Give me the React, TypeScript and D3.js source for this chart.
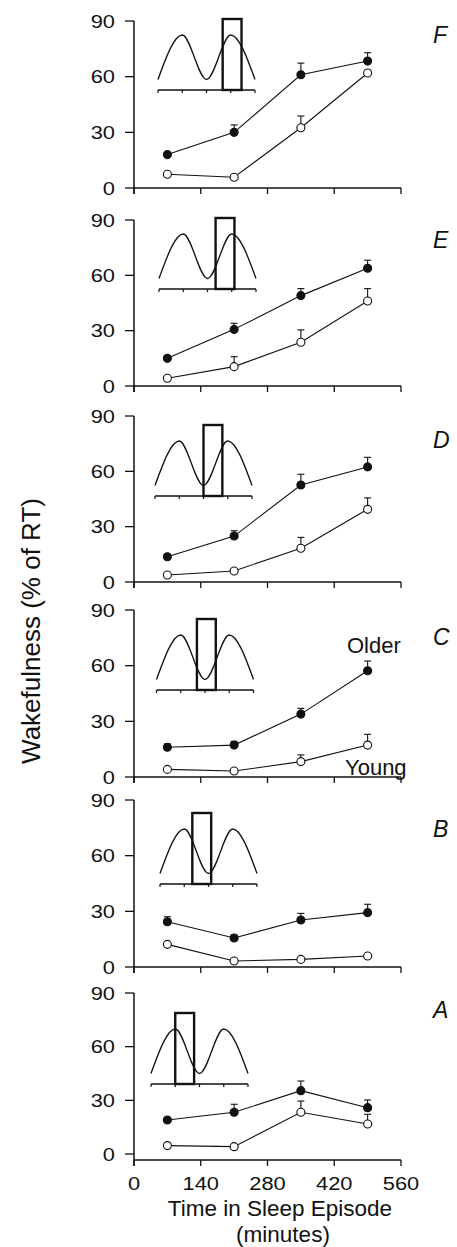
import React from 'react';
import * as d3 from 'd3';

// time bins (minutes into the sleep episode)
const minutes = [70, 210, 350, 490];
const xTicks = [0, 140, 280, 420, 560];
const yTicks = [0, 30, 60, 90];

// panel order top to bottom
const panelNames = ['F', 'E', 'D', 'C', 'B', 'A'];

// older subjects (filled) mean and SEM, % wake
const olderF = [18, 30, 61, 68.4];
const olderSemF = [1, 4, 6.3, 4.5];
const olderE = [15, 30.7, 49, 63.8];
const olderSemE = [1, 3.3, 3.8, 4.4];
const olderD = [13.7, 24.9, 52.6, 62.4];
const olderSemD = [1, 2.9, 5.8, 5.2];
const olderC = [16, 17.2, 33.9, 57.3];
const olderSemC = [1.8, 2, 3.1, 5.2];
const olderB = [24.4, 15.6, 25.3, 29.3];
const olderSemB = [2.7, 1.6, 3.6, 4.5];
const olderA = [19, 23.3, 35.4, 25.9];
const olderSemA = [1, 4.5, 5.4, 4.3];

// young subjects (open)
const youngF = [7.4, 5.8, 32.5, 62];
const youngSemF = [0.5, 0.5, 6.3, 1.5];
const youngE = [4.2, 10.5, 23.7, 46.1];
const youngSemE = [1, 5.4, 6.7, 6.7];
const youngD = [3.8, 6, 18.3, 39.4];
const youngSemD = [0.5, 1, 5.9, 6.2];
const youngC = [4.1, 3.2, 8.3, 17.2];
const youngSemC = [0.5, 0.5, 3.6, 5.8];
const youngB = [12.2, 3.2, 4.1, 5.9];
const youngSemB = [0.5, 0.3, 0.3, 0.5];
const youngA = [4.7, 4.1, 23.3, 16.8];
const youngSemA = [0.5, 0.5, 6.3, 5.4];

const olderMeans = [olderF, olderE, olderD, olderC, olderB, olderA];
const olderSems = [olderSemF, olderSemE, olderSemD, olderSemC, olderSemB, olderSemA];
const youngMeans = [youngF, youngE, youngD, youngC, youngB, youngA];
const youngSems = [youngSemF, youngSemE, youngSemD, youngSemC, youngSemB, youngSemA];

// inset: circadian rhythm over two cycles, sleep window start (h)
const rhythmHours = [0, 12, 24, 36, 48];
const rhythmLevel = [0, 1, 0, 1, 0];
const windowStarts = [32, 28, 24, 20, 16, 12];
const sleepHours = 9.33;

// where each panel sits on the page
const layout = [
  { top: 21, bottom: 188, xGap: 0, insetX: 158, insetDy: 69, letterDy: 22 },
  { top: 220, bottom: 386, xGap: 0, insetX: 159, insetDy: 69, letterDy: 28 },
  { top: 416, bottom: 582, xGap: 0, insetX: 155, insetDy: 80, letterDy: 32 },
  { top: 610, bottom: 777, xGap: 0, insetX: 156.5, insetDy: 80, letterDy: 35 },
  { top: 800, bottom: 967, xGap: 0, insetX: 160, insetDy: 84, letterDy: 37 },
  { top: 993, bottom: 1154, xGap: 6, insetX: 151, insetDy: 91, letterDy: 25 },
];

const font = 'Liberation Sans, Arial, Helvetica, sans-serif';
const x = d3.scaleLinear().domain([0, 560]).range([134, 401]);

function Wide({ x, y, size, anchor, children }: any) {
  return (
    <text transform={`translate(${x},${y}) scale(1.15,1)`} fontSize={size}
      textAnchor={anchor} fontFamily={font} fill="#111">{children}</text>
  );
}

function Inset({ x0, axisY, start }: any) {
  const hx = d3.scaleLinear().domain([0, 48]).range([x0, x0 + 97]);
  const ly = d3.scaleLinear().domain([0, 1]).range([axisY - 10.5, axisY - 55]);
  const line = d3.line<number>()
    .x((d, i) => hx(rhythmHours[i]))
    .y(d => ly(d))
    .curve(d3.curveMonotoneX);
  return (
    <g fill="none" stroke="#111">
      <path d={line(rhythmLevel) || ''} strokeWidth={1.3} />
      <line x1={hx(0)} x2={hx(48)} y1={axisY} y2={axisY} strokeWidth={1.4} />
      {rhythmHours.map(h => (
        <line key={h} x1={hx(h)} x2={hx(h)} y1={axisY} y2={axisY + 3} strokeWidth={1.2} />
      ))}
      <rect x={hx(start)} y={axisY - 71} width={hx(start + sleepHours) - hx(start)}
        height={71} strokeWidth={2.4} />
    </g>
  );
}

function Series({ y, means, sems, filled }: any) {
  const line = d3.line<number>().x((d, i) => x(minutes[i])).y(d => y(d));
  return (
    <g>
      {means.map((m: number, i: number) => {
        const top = y(m + sems[i]);
        return (
          <g key={i} stroke="#111" strokeWidth={1.1}>
            <line x1={x(minutes[i])} x2={x(minutes[i])} y1={y(m)} y2={top} />
            <line x1={x(minutes[i]) - 3.5} x2={x(minutes[i]) + 3.5} y1={top} y2={top} />
          </g>
        );
      })}
      <path d={line(means) || ''} fill="none" stroke="#111" strokeWidth={1.1} />
      {means.map((m: number, i: number) => (
        <circle key={i} cx={x(minutes[i])} cy={y(m)} r={4}
          fill={filled ? '#111' : '#fff'} stroke="#111" strokeWidth={1.1} />
      ))}
    </g>
  );
}

function Panel({ idx }: any) {
  const L = layout[idx];
  const y = d3.scaleLinear().domain([0, 90]).range([L.bottom, L.top]);
  const axisY = L.bottom + L.xGap;
  const ax = x(0);
  return (
    <g>
      <line x1={ax} x2={ax} y1={L.top} y2={axisY + 6} stroke="#111" strokeWidth={1.5} />
      {yTicks.map(t => (
        <g key={t}>
          <line x1={ax - 9} x2={ax} y1={y(t)} y2={y(t)} stroke="#111" strokeWidth={1.3} />
          <Wide x={ax - 19} y={y(t) + 6.5} size={19} anchor="end">{t}</Wide>
        </g>
      ))}
      <line x1={ax} x2={x(560)} y1={axisY} y2={axisY} stroke="#111" strokeWidth={1.5} />
      {xTicks.map(t => (
        <line key={t} x1={x(t)} x2={x(t)} y1={axisY} y2={axisY + 6} stroke="#111" strokeWidth={1.3} />
      ))}
      <Inset x0={L.insetX} axisY={L.top + L.insetDy} start={windowStarts[idx]} />
      <Series y={y} means={youngMeans[idx]} sems={youngSems[idx]} filled={false} />
      <Series y={y} means={olderMeans[idx]} sems={olderSems[idx]} filled={true} />
      <text x={433} y={L.top + L.letterDy} fontSize={23} fontStyle="italic"
        fontFamily={font} fill="#111">{panelNames[idx]}</text>
    </g>
  );
}

export default function App() {
  const last = layout[layout.length - 1];
  const xAxisY = last.bottom + last.xGap;
  return (
    <svg width={457} height={1247} viewBox="0 0 457 1247"
      style={{ position: 'absolute', left: 0, top: 0, background: '#fff' }}>
      <rect width={457} height={1247} fill="#fff" />
      {panelNames.map((n, i) => <Panel key={n} idx={i} />)}
      {xTicks.map(t => (
        <Wide key={t} x={x(t)} y={xAxisY + 30} size={19} anchor="middle">{t}</Wide>
      ))}
      <text x={280} y={1216} fontSize={22.5} textAnchor="middle" fontFamily={font} fill="#111">
        Time in Sleep Episode
      </text>
      <text x={283} y={1242} fontSize={22.5} textAnchor="middle" fontFamily={font} fill="#111">
        (minutes)
      </text>
      <text transform="translate(40,631) rotate(-90)" fontSize={26} textAnchor="middle"
        fontFamily={font} fill="#111">Wakefulness (% of RT)</text>
      <text x={347} y={653} fontSize={22} fontFamily={font} fill="#111">Older</text>
      <text x={345} y={775} fontSize={22} fontFamily={font} fill="#111">Young</text>
    </svg>
  );
}
